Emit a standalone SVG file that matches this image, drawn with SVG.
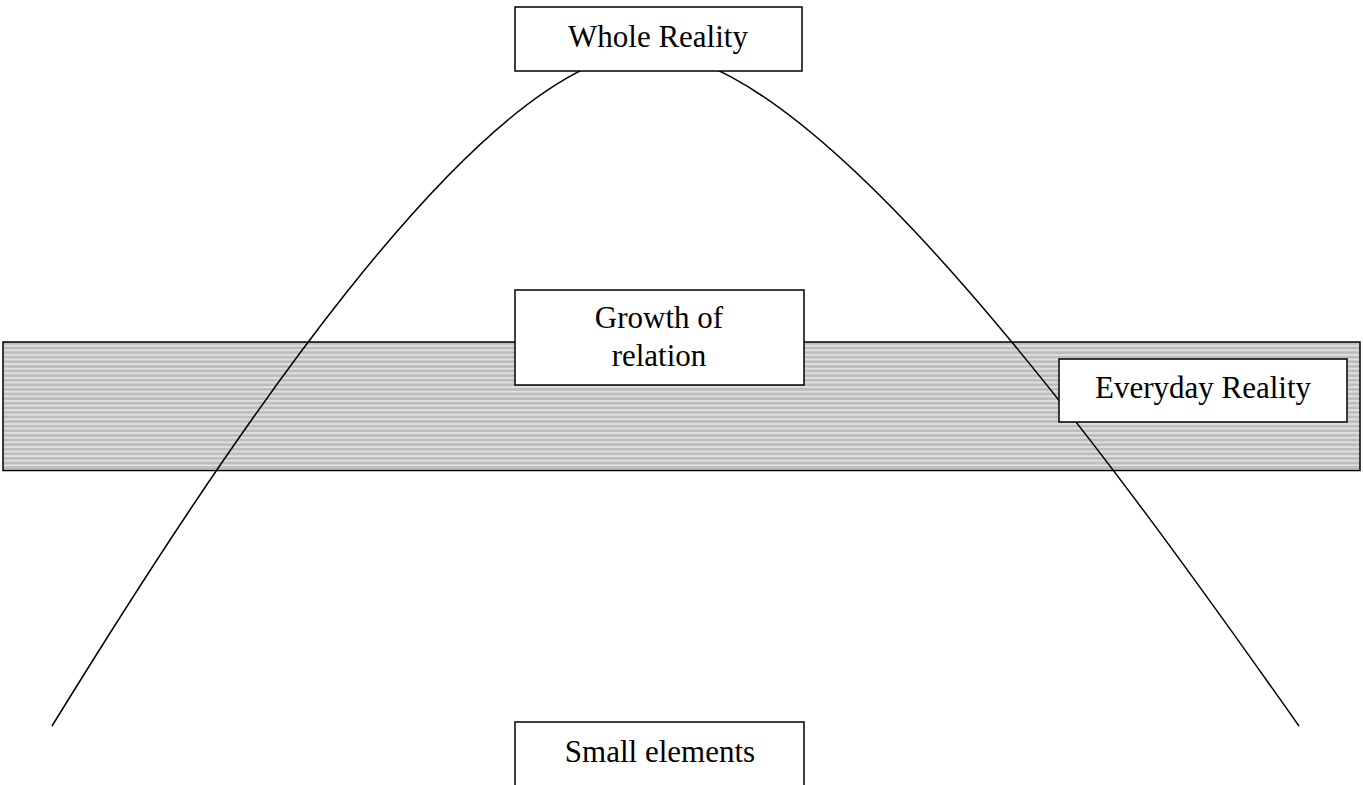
<svg xmlns="http://www.w3.org/2000/svg" width="1363" height="785" viewBox="0 0 1363 785">
<defs>
<pattern id="stripes" patternUnits="userSpaceOnUse" x="0" y="342" width="10" height="4.6">
<rect x="0" y="0" width="10" height="4.6" fill="#bdbdbd"/>
<rect x="0" y="3.2" width="10" height="1" fill="#ffffff"/>
</pattern>
</defs>
<style>
.box{fill:#ffffff;stroke:#000000;stroke-width:1.5}
.lbl{font-family:"Liberation Serif","Times New Roman",serif;font-size:31px;fill:#000000;text-anchor:middle}
.curve{fill:none;stroke:#000000;stroke-width:1.5}
</style>
<g id="everyday-band">
<rect x="3" y="342" width="1357" height="128.5" fill="url(#stripes)" stroke="#000000" stroke-width="1.5"/>
</g>
<g id="connectors">
<path class="curve" d="M52,726 C209.5,470.7 479,52 649,52 C819,52 1114.4,464.6 1299,726"/>
</g>
<g id="whole-reality">
<rect class="box" x="515" y="7" width="287" height="64"/>
<text class="lbl" x="658" y="47">Whole Reality</text>
</g>
<g id="growth-of-relation">
<rect class="box" x="515" y="290" width="289" height="95"/>
<text class="lbl" x="659" y="328">Growth of</text>
<text class="lbl" x="659" y="366">relation</text>
</g>
<g id="everyday-reality">
<rect class="box" x="1059" y="359" width="288" height="63"/>
<text class="lbl" x="1203" y="398">Everyday Reality</text>
</g>
<g id="small-elements">
<rect class="box" x="515" y="722" width="289" height="70"/>
<text class="lbl" x="660" y="762">Small elements</text>
</g>
</svg>
